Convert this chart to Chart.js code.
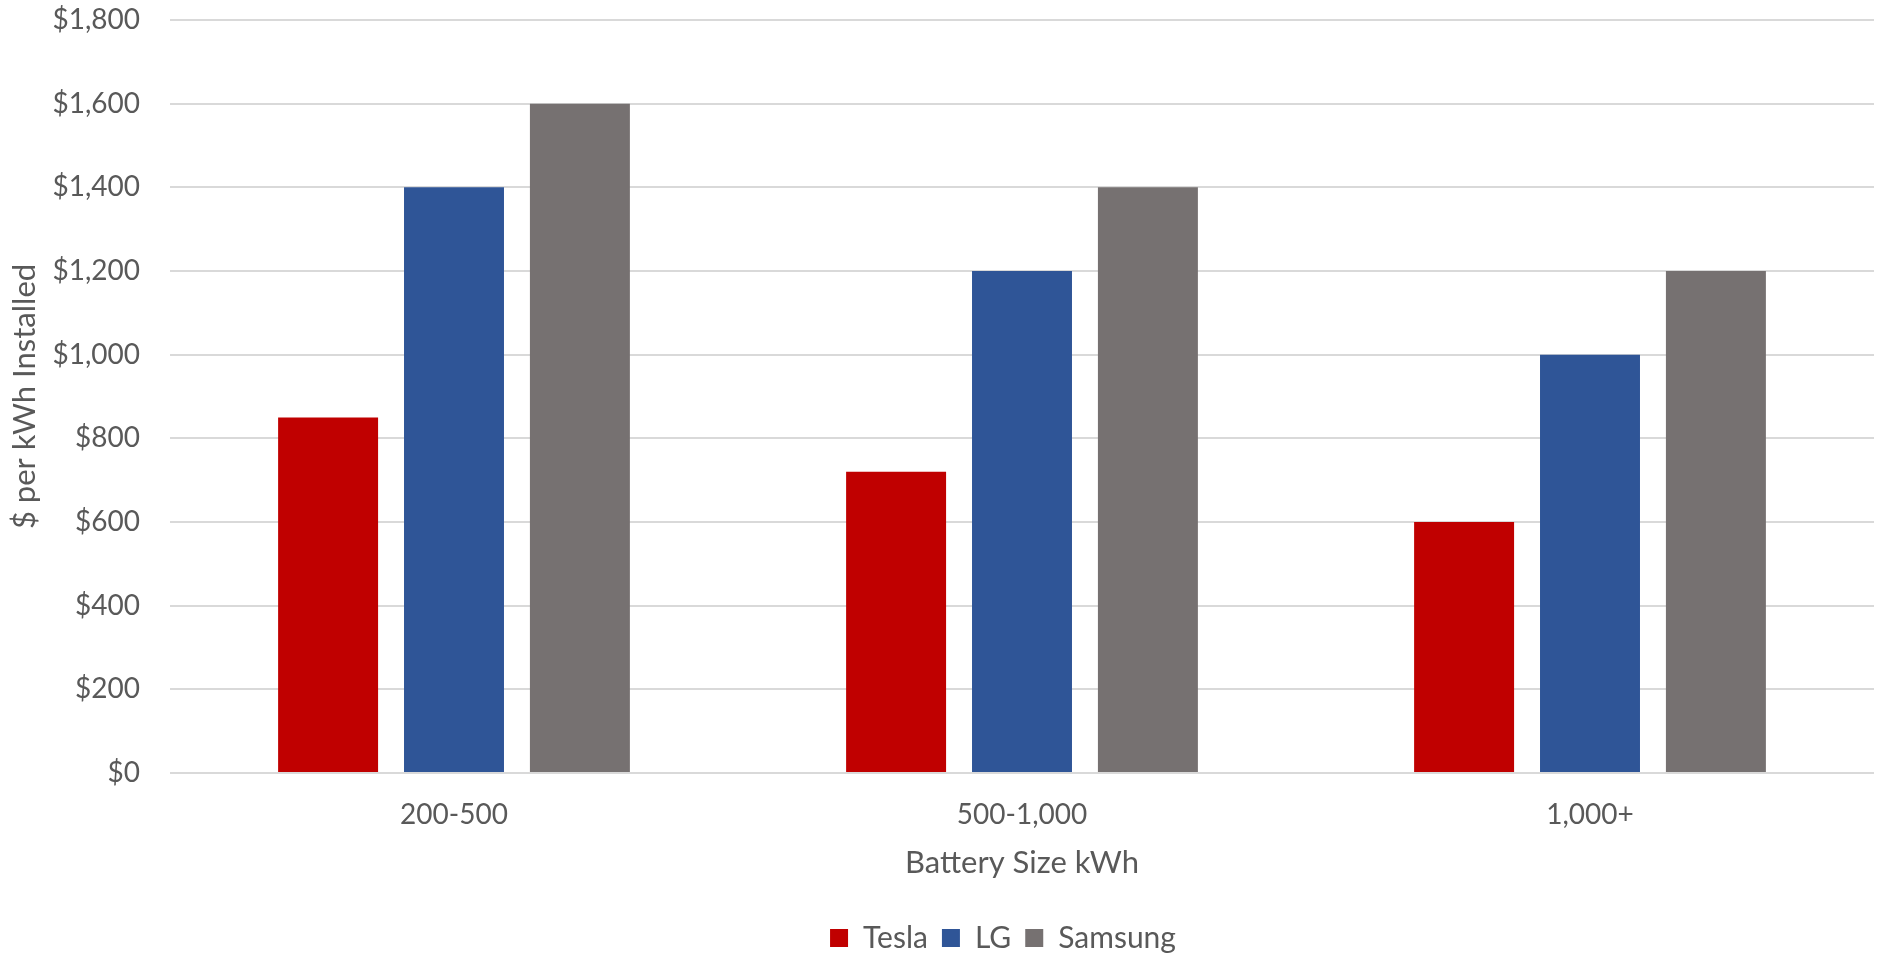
<!DOCTYPE html>
<html>
<head>
<meta charset="utf-8">
<script src="https://cdn.jsdelivr.net/npm/chart.js@4/dist/chart.umd.min.js"></script>
<style>
html,body{margin:0;padding:0;background:#fff;}
#wrap{width:1882px;height:959px;position:relative;}
</style>
</head>
<body>
<div id="wrap"><canvas id="c" width="1882" height="959"></canvas></div>
<script>
const categories = ["200-500", "500-1,000", "1,000+"];
const tesla = [850, 720, 600];
const lg = [1400, 1200, 1000];
const samsung = [1600, 1400, 1200];
const seriesNames = ["Tesla", "LG", "Samsung"];
const yTicks = [0, 200, 400, 600, 800, 1000, 1200, 1400, 1600, 1800];

const FONT = "Lato, 'Open Sans', sans-serif";
const TXT = "#595959";

const legendShift = {
  id: 'legendShift',
  afterLayout(chart) {
    const l = chart.legend;
    if (!l) return;
    l.left = chart.chartArea.left - 19;
    l.right = chart.chartArea.right - 19;
    l.top = chart.height - l.height + 4;
    l.bottom = l.top + l.height;
  }
};

new Chart(document.getElementById('c'), {
  type: 'bar',
  data: {
    labels: categories,
    datasets: [
      {label: seriesNames[0], data: tesla, backgroundColor: '#c00000'},
      {label: seriesNames[1], data: lg, backgroundColor: '#2f5597'},
      {label: seriesNames[2], data: samsung, backgroundColor: '#767171'}
    ]
  },
  plugins: [legendShift],
  options: {
    responsive: false,
    animation: false,
    devicePixelRatio: 1,
    categoryPercentage: 0.665,
    barPercentage: 0.794,
    layout: {padding: {top: 20, right: 8, left: 0, bottom: 0}},
    plugins: {
      legend: {
        position: 'bottom',
        fullSize: false,
        labels: {
          font: {family: FONT, size: 30},
          color: TXT,
          boxWidth: 18,
          boxHeight: 18,
          padding: 14
        }
      },
      tooltip: {enabled: false}
    },
    scales: {
      x: {
        grid: {display: false, drawTicks: false},
        border: {display: false},
        ticks: {font: {family: FONT, size: 28}, color: TXT, padding: 25},
        title: {display: true, text: 'Battery Size kWh', font: {family: FONT, size: 31}, color: TXT, padding: {top: 0, bottom: 23}},
        afterFit: s => { s.height = 132; }
      },
      y: {
        min: 0, max: 1800,
        afterBuildTicks: s => { s.ticks = yTicks.map(v => ({value: v})); },
        grid: {color: '#d9d9d9', lineWidth: 2, drawTicks: true, tickLength: 30, tickColor: 'rgba(0,0,0,0)'},
        border: {display: false},
        ticks: {
          font: {family: FONT, size: 28}, color: TXT, padding: 0,
          callback: v => '$' + v.toLocaleString('en-US')
        },
        title: {display: true, text: '$ per kWh Installed', font: {family: FONT, size: 31}, color: TXT, padding: {top: 6, bottom: 4}},
        afterFit: s => { s.width = 170; }
      }
    }
  }
});
</script>
</body>
</html>
